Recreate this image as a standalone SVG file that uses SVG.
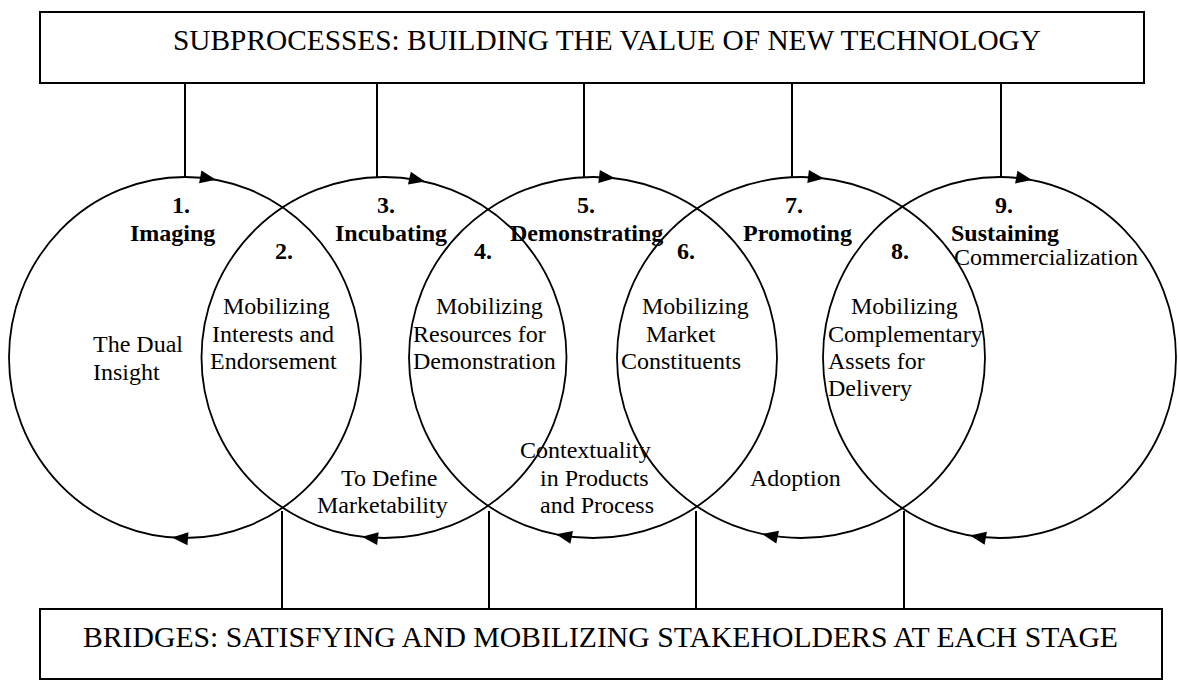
<svg xmlns="http://www.w3.org/2000/svg" xmlns:xlink="http://www.w3.org/1999/xlink" width="1178" height="681" viewBox="0 0 1178 681">
<style>
  .box { fill: #fff; stroke: #000; stroke-width: 2; }
  .ring { fill: none; stroke: #000; stroke-width: 1.8; }
  .conn { stroke: #000; stroke-width: 2; fill: none; }
  text { font-family: "Liberation Serif", "Times New Roman", serif; fill: #000; }
  .h { font-size: 29px; }
  .t { font-size: 24px; }
  .b { font-size: 24px; font-weight: bold; }
</style>
<defs>
  <path id="ah" d="M0,0 L-16,-6.5 L-16,6.5 Z" fill="#000"/>
</defs>
<rect width="1178" height="681" fill="#fff"/>

<g id="subprocesses">
  <rect class="box" x="40" y="12" width="1104" height="71"/>
  <text class="h" x="173" y="50" textLength="868" lengthAdjust="spacingAndGlyphs">SUBPROCESSES: BUILDING THE VALUE OF NEW TECHNOLOGY</text>
</g>

<g id="bridges">
  <rect class="box" x="40" y="609" width="1122" height="70"/>
  <text class="h" x="83" y="647" textLength="1035" lengthAdjust="spacingAndGlyphs">BRIDGES: SATISFYING AND MOBILIZING STAKEHOLDERS AT EACH STAGE</text>
</g>

<g id="connectors">
  <line class="conn" x1="185" y1="83" x2="185" y2="178"/>
  <line class="conn" x1="377" y1="83" x2="377" y2="178"/>
  <line class="conn" x1="584" y1="83" x2="584" y2="178"/>
  <line class="conn" x1="792" y1="83" x2="792" y2="178"/>
  <line class="conn" x1="1001" y1="83" x2="1001" y2="178"/>
  <line class="conn" x1="282" y1="511" x2="282" y2="609"/>
  <line class="conn" x1="489" y1="511" x2="489" y2="609"/>
  <line class="conn" x1="696" y1="511" x2="696" y2="609"/>
  <line class="conn" x1="904" y1="511" x2="904" y2="609"/>
</g>

<g id="stage1">
  <ellipse class="ring" cx="185" cy="357.5" rx="176" ry="180.5"/>
  <use href="#ah" xlink:href="#ah" transform="translate(216,179.8) rotate(10.4)"/>
  <use href="#ah" xlink:href="#ah" transform="translate(172,537.5) rotate(184.3)"/>
  <text class="b" x="172" y="213">1.</text>
  <text class="b" x="130" y="241">Imaging</text>
  <text class="t" x="93" y="352">The Dual</text>
  <text class="t" x="93" y="380">Insight</text>
</g>

<g id="stage3">
  <ellipse class="ring" cx="384" cy="357.5" rx="182.5" ry="180.5"/>
  <use href="#ah" xlink:href="#ah" transform="translate(425,181.6) rotate(12.8)"/>
  <use href="#ah" xlink:href="#ah" transform="translate(362,536.7) rotate(186.8)"/>
  <text class="b" x="377" y="213">3.</text>
  <text class="b" x="335" y="241">Incubating</text>
  <text class="t" x="341" y="486">To Define</text>
  <text class="t" x="317" y="513">Marketability</text>
</g>

<g id="stage5">
  <ellipse class="ring" cx="593" cy="357.5" rx="184" ry="180.5"/>
  <use href="#ah" xlink:href="#ah" transform="translate(615,178.3) rotate(6.7)"/>
  <use href="#ah" xlink:href="#ah" transform="translate(556,534.3) rotate(191.4)"/>
  <text class="b" x="577" y="213">5.</text>
  <text class="b" x="510" y="241">Demonstrating</text>
  <text class="t" x="520" y="458">Contextuality</text>
  <text class="t" x="540" y="486">in Products</text>
  <text class="t" x="540" y="513">and Process</text>
</g>

<g id="stage7">
  <ellipse class="ring" cx="801" cy="357.5" rx="184" ry="180.5"/>
  <use href="#ah" xlink:href="#ah" transform="translate(824,178.4) rotate(7)"/>
  <use href="#ah" xlink:href="#ah" transform="translate(762,533.9) rotate(192)"/>
  <text class="b" x="785" y="213">7.</text>
  <text class="b" x="743" y="241">Promoting</text>
  <text class="t" x="750" y="486">Adoption</text>
</g>

<g id="stage9">
  <ellipse class="ring" cx="999.5" cy="357.5" rx="176.5" ry="180.5"/>
  <use href="#ah" xlink:href="#ah" transform="translate(1032,180.1) rotate(10.8)"/>
  <use href="#ah" xlink:href="#ah" transform="translate(970,535.5) rotate(189.8)"/>
  <text class="b" x="995" y="213">9.</text>
  <text class="b" x="951" y="241">Sustaining</text>
  <text class="t" x="954" y="265">Commercialization</text>
</g>

<g id="bridge2">
  <text class="b" x="275" y="259">2.</text>
  <text class="t" x="223" y="314">Mobilizing</text>
  <text class="t" x="212" y="342">Interests and</text>
  <text class="t" x="210" y="369">Endorsement</text>
</g>

<g id="bridge4">
  <text class="b" x="474" y="259">4.</text>
  <text class="t" x="436" y="314">Mobilizing</text>
  <text class="t" x="413" y="342">Resources for</text>
  <text class="t" x="413" y="369">Demonstration</text>
</g>

<g id="bridge6">
  <text class="b" x="677" y="259">6.</text>
  <text class="t" x="642" y="314">Mobilizing</text>
  <text class="t" x="646" y="342">Market</text>
  <text class="t" x="621" y="369">Constituents</text>
</g>

<g id="bridge8">
  <text class="b" x="891" y="259">8.</text>
  <text class="t" x="851" y="314">Mobilizing</text>
  <text class="t" x="828" y="342">Complementary</text>
  <text class="t" x="828" y="369">Assets for</text>
  <text class="t" x="828" y="396">Delivery</text>
</g>
</svg>
